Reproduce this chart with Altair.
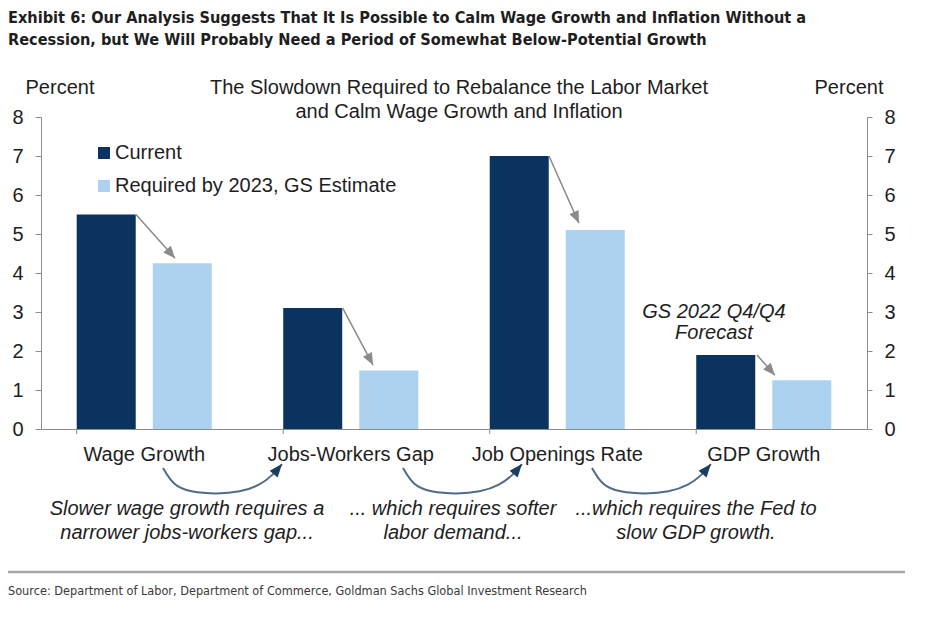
import math
import altair as alt
import pandas as pd

# ---------------- data ----------------
categories = ["Wage Growth", "Jobs-Workers Gap", "Job Openings Rate", "GDP Growth"]
series_names = ["Current", "Required by 2023, GS Estimate"]
current_vals = [5.5, 3.1, 7.0, 1.9]
required_vals = [4.25, 1.5, 5.1, 1.25]

# grey arrows from "current" bar to "required" bar (x in category-band units, y in percent)
arrow_start_x = [0.46, 1.461, 2.46, 3.467]
arrow_tip_x = [0.649, 1.608, 2.605, 3.554]
arrow_tip_y = [4.38, 1.64, 5.28, 1.38]

# curved arrows below the category labels (band units / percent units)
arc_start_x = [0.591, 1.753, 2.668]
arc_shape_dx = [0.0, 0.048, 0.131, 0.261, 0.373, 0.470, 0.532, 0.576]
arc_shape_y = [-1.0, -1.44, -1.62, -1.67, -1.62, -1.44, -1.18, -0.90]

title_lines = "Exhibit 6: Our Analysis Suggests That It Is Possible to Calm Wage Growth and Inflation Without a\nRecession, but We Will Probably Need a Period of Somewhat Below-Potential Growth"
inner_title = "The Slowdown Required to Rebalance the Labor Market\nand Calm Wage Growth and Inflation"
captions = [
    "Slower wage growth requires a\nnarrower jobs-workers gap...",
    "... which requires softer\nlabor demand...",
    "...which requires the Fed to\nslow GDP growth.",
]
source_text = "Source: Department of Labor, Department of Commerce, Goldman Sachs Global Investment Research"

# ---------------- styles ----------------
W, H = 826, 312
FONT = "Liberation Sans, Arial, sans-serif"
NARROW = "DejaVu Sans Condensed, DejaVu Sans, sans-serif"
NAVY = "#0a3360"
LIGHT = "#acd2f0"
TXT = "#1e1e1e"
AXIS = "#8c8c8c"
ARROW = "#8a8a8a"
ARC = "#4f6b88"
ARCHEAD = "#1b3d60"

step = W / 4.0
ppu = H / 8.0

bars_df = pd.DataFrame(
    [{"category": c, "series": series_names[0], "value": v} for c, v in zip(categories, current_vals)]
    + [{"category": c, "series": series_names[1], "value": v} for c, v in zip(categories, required_vals)]
)

x_band = alt.Scale(domain=categories, paddingInner=0.346, paddingOuter=0.173)
y_scale = alt.Scale(domain=[0, 8], nice=False)
x_lin = alt.Scale(domain=[0, 4], nice=False, zero=False)

bars = alt.Chart(bars_df).mark_bar().encode(
    x=alt.X("category:N", scale=x_band, sort=categories,
            axis=alt.Axis(title=None, labelAngle=0, ticks=False, domainColor=AXIS, domainWidth=1,
                          labelFontSize=20, labelFont=FONT, labelColor=TXT, labelPadding=15)),
    xOffset=alt.XOffset("series:N", sort=series_names,
                        scale=alt.Scale(domain=series_names, paddingInner=0.224, paddingOuter=0)),
    y=alt.Y("value:Q", scale=y_scale,
            axis=alt.Axis(title=None, orient="left", values=list(range(9)), grid=False, tickSize=6,
                          tickColor=AXIS, domainColor=AXIS, labelFontSize=20, labelFont=FONT,
                          labelColor=TXT, labelPadding=12)),
    color=alt.Color("series:N", sort=series_names,
                    scale=alt.Scale(domain=series_names, range=[NAVY, LIGHT]),
                    legend=alt.Legend(title=None, orient="none", legendX=53, legendY=26,
                                      symbolType="square", symbolSize=144, symbolStrokeWidth=0,
                                      labelFontSize=20, labelFont=FONT, labelColor=TXT,
                                      labelLimit=0, rowPadding=13, labelOffset=1, padding=0,
                                      direction="vertical")),
)

ticks = alt.Chart(pd.DataFrame({"category": categories})).mark_rule(color=AXIS, strokeWidth=1).encode(
    x=alt.X("category:N", scale=x_band, sort=categories, bandPosition=0, axis=None),
    y=alt.value(H),
    y2=alt.value(H + 5),
)

# grey arrows
arr_rows = []
for i in range(4):
    sx, sy = arrow_start_x[i], current_vals[i]
    tx, ty = arrow_tip_x[i], arrow_tip_y[i]
    ang = math.degrees(math.atan2((sy - ty) * ppu, (tx - sx) * step)) % 360
    arr_rows.append({"sx": sx, "sy": sy, "tx": tx, "ty": ty, "ang": ang})
arr_df = pd.DataFrame(arr_rows)

arrow_lines = alt.Chart(arr_df).mark_rule(color=ARROW, strokeWidth=1.5).encode(
    x=alt.X("sx:Q", scale=x_lin, axis=None),
    x2="tx:Q",
    y=alt.Y("sy:Q", scale=y_scale,
            axis=alt.Axis(title=None, orient="right", values=list(range(9)), grid=False, tickSize=5,
                          tickColor=AXIS, domainColor=AXIS, labelFontSize=20, labelFont=FONT,
                          labelColor=TXT, labelPadding=12)),
    y2="ty:Q",
)
HEAD = "M0,0L-1,-0.42L-1,0.42Z"
arrow_heads = alt.Chart(arr_df).mark_point(shape=HEAD, filled=True, size=576, color=ARROW,
                                           opacity=1, strokeWidth=0).encode(
    x=alt.X("tx:Q", scale=x_lin, axis=None),
    y=alt.Y("ty:Q", scale=y_scale, axis=None),
    angle=alt.Angle("ang:Q", scale=None),
)

# curved arrows
arc_rows, arc_head_rows = [], []
for a, x0 in enumerate(arc_start_x):
    for k, (dx, yy) in enumerate(zip(arc_shape_dx, arc_shape_y)):
        arc_rows.append({"arc": a, "k": k, "ax": x0 + dx, "ay": yy})
    x1, y1 = x0 + arc_shape_dx[-2], arc_shape_y[-2]
    x2, y2 = x0 + arc_shape_dx[-1], arc_shape_y[-1]
    ang = math.degrees(math.atan2((y1 - y2) * ppu, (x2 - x1) * step)) % 360
    arc_head_rows.append({"ax": x2, "ay": y2, "ang": ang})
arc_df = pd.DataFrame(arc_rows)
arc_head_df = pd.DataFrame(arc_head_rows)

arcs = alt.Chart(arc_df).mark_line(interpolate="basis", color=ARC, strokeWidth=2).encode(
    x=alt.X("ax:Q", scale=x_lin, axis=None),
    y=alt.Y("ay:Q", scale=y_scale, axis=None),
    detail="arc:N",
    order="k:Q",
)
arc_heads = alt.Chart(arc_head_df).mark_point(shape="M0,0L-1,-0.4L-1,0.4Z", filled=True, size=676,
                                              color=ARCHEAD, opacity=1, strokeWidth=0).encode(
    x=alt.X("ax:Q", scale=x_lin, axis=None),
    y=alt.Y("ay:Q", scale=y_scale, axis=None),
    angle=alt.Angle("ang:Q", scale=None),
)


def label(text, x, y, size=20, align="center", font=FONT, weight="normal", style="normal",
          color=TXT, line_height=24):
    return alt.Chart(pd.DataFrame({"t": [text]})).mark_text(
        align=align, baseline="alphabetic", font=font, fontSize=size, fontWeight=weight,
        fontStyle=style, color=color, lineBreak="\n", lineHeight=line_height,
    ).encode(text="t:N", x=alt.value(x), y=alt.value(y))


texts = [
    label(title_lines, -33, -94, size=16.2, align="left", font=NARROW, weight="bold", line_height=22),
    label(inner_title, 418, -23),
    label("Percent", 19, -23),
    label("Percent", 808, -23),
    label("GS 2022 Q4/Q4\nForecast", 673, 201, style="italic", line_height=21),
    label(captions[0], 146, 398, style="italic"),
    label(captions[1], 412, 398, style="italic"),
    label(captions[2], 655, 398, style="italic"),
    label(source_text, -33, 478, size=12.6, align="left", font=NARROW, color="#3a3a3a"),
]

sep = alt.Chart(pd.DataFrame({"a": [0]})).mark_rule(color="#a8a8a8", strokeWidth=2.5).encode(
    x=alt.value(-33), x2=alt.value(864), y=alt.value(455)
)

chart = alt.layer(
    bars, ticks, arrow_lines, arrow_heads, arcs, arc_heads, sep, *texts
).resolve_scale(x="independent").resolve_axis(y="independent").properties(
    width=W, height=H,
    autosize=alt.AutoSizeParams(type="none"),
    padding={"left": 33, "top": 109, "right": 48, "bottom": 172},
    background="white",
).configure_view(stroke=None)

chart.save("out.html", embed_options={"renderer": "svg", "actions": False})
